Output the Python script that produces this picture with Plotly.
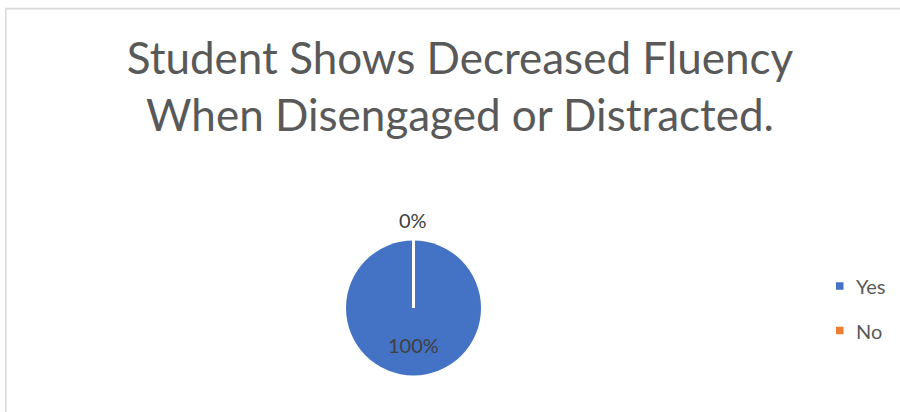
import plotly.graph_objects as go

# Survey answers
categories = ["Yes", "No"]
counts = [100, 0]
colors = ["#4472C4", "#ED7D31"]
title_lines = ["Student Shows Decreased Fluency", "When Disengaged or Distracted."]

W, H = 900, 412
FONT = "Lato, Calibri, 'Open Sans', sans-serif"


def px_x(x):
    return x / W


def px_y(y):
    return 1 - y / H


# Pie geometry (pixels)
cx, cy, r = 413.5, 308.0, 67.5
dom_x = [px_x(cx - r), px_x(cx + r)]
dom_y = [px_y(cy + r), px_y(cy - r)]

total = sum(counts)
pcts = [v / total * 100 for v in counts]

fig = go.Figure(
    go.Pie(
        labels=categories,
        values=counts,
        sort=False,
        direction="clockwise",
        rotation=0,
        marker=dict(colors=colors, line=dict(width=0)),
        textinfo="none",
        domain=dict(x=dom_x, y=dom_y),
        showlegend=False,
    )
)

shapes = []
# Chart frame
shapes.append(dict(type="rect", xref="paper", yref="paper",
                   x0=px_x(5.8), x1=px_x(W + 10), y0=px_y(H + 10), y1=px_y(8.6),
                   line=dict(color="#d9d9d9", width=1.6), fillcolor="rgba(0,0,0,0)",
                   layer="above"))
# Slice boundary at 12 o'clock
shapes.append(dict(type="line", xref="paper", yref="paper",
                   x0=(dom_x[0] + dom_x[1]) / 2, x1=(dom_x[0] + dom_x[1]) / 2,
                   y0=(dom_y[0] + dom_y[1]) / 2, y1=dom_y[1] + 0.01,
                   line=dict(color="white", width=3), layer="above"))

annotations = []
# Data labels
label_pos = [(cx, cy + r * 0.55), (cx - 1, cy - r - 21)]
for p, (lx, ly) in zip(pcts, label_pos):
    annotations.append(dict(text=f"{p:.0f}%", x=px_x(lx), y=px_y(ly),
                            xref="paper", yref="paper", showarrow=False,
                            xanchor="center", yanchor="middle",
                            font=dict(family=FONT, size=20, color="#404040")))

# Legend
leg_x, leg_y0, leg_dy, sq = 836.0, 286.0, 44.5, 7.5
for i, (name, col) in enumerate(zip(categories, colors)):
    yc = leg_y0 + i * leg_dy
    shapes.append(dict(type="rect", xref="paper", yref="paper",
                       x0=px_x(leg_x), x1=px_x(leg_x + sq),
                       y0=px_y(yc + sq / 2), y1=px_y(yc - sq / 2),
                       fillcolor=col, line=dict(width=0)))
    annotations.append(dict(text=name, x=px_x(leg_x + sq + 10), y=px_y(yc),
                            xref="paper", yref="paper", showarrow=False,
                            xanchor="left", yanchor="middle",
                            font=dict(family=FONT, size=20, color="#595959")))

fig.update_layout(
    width=W, height=H,
    margin=dict(l=0, r=0, t=0, b=0),
    paper_bgcolor="white",
    plot_bgcolor="white",
    title=dict(text="<br>".join(title_lines),
               x=px_x(460), xanchor="center",
               y=px_y(74), yanchor="top", yref="container",
               font=dict(family=FONT, size=44, color="#595959")),
    shapes=shapes,
    annotations=annotations,
)

fig.write_html("out.html")
